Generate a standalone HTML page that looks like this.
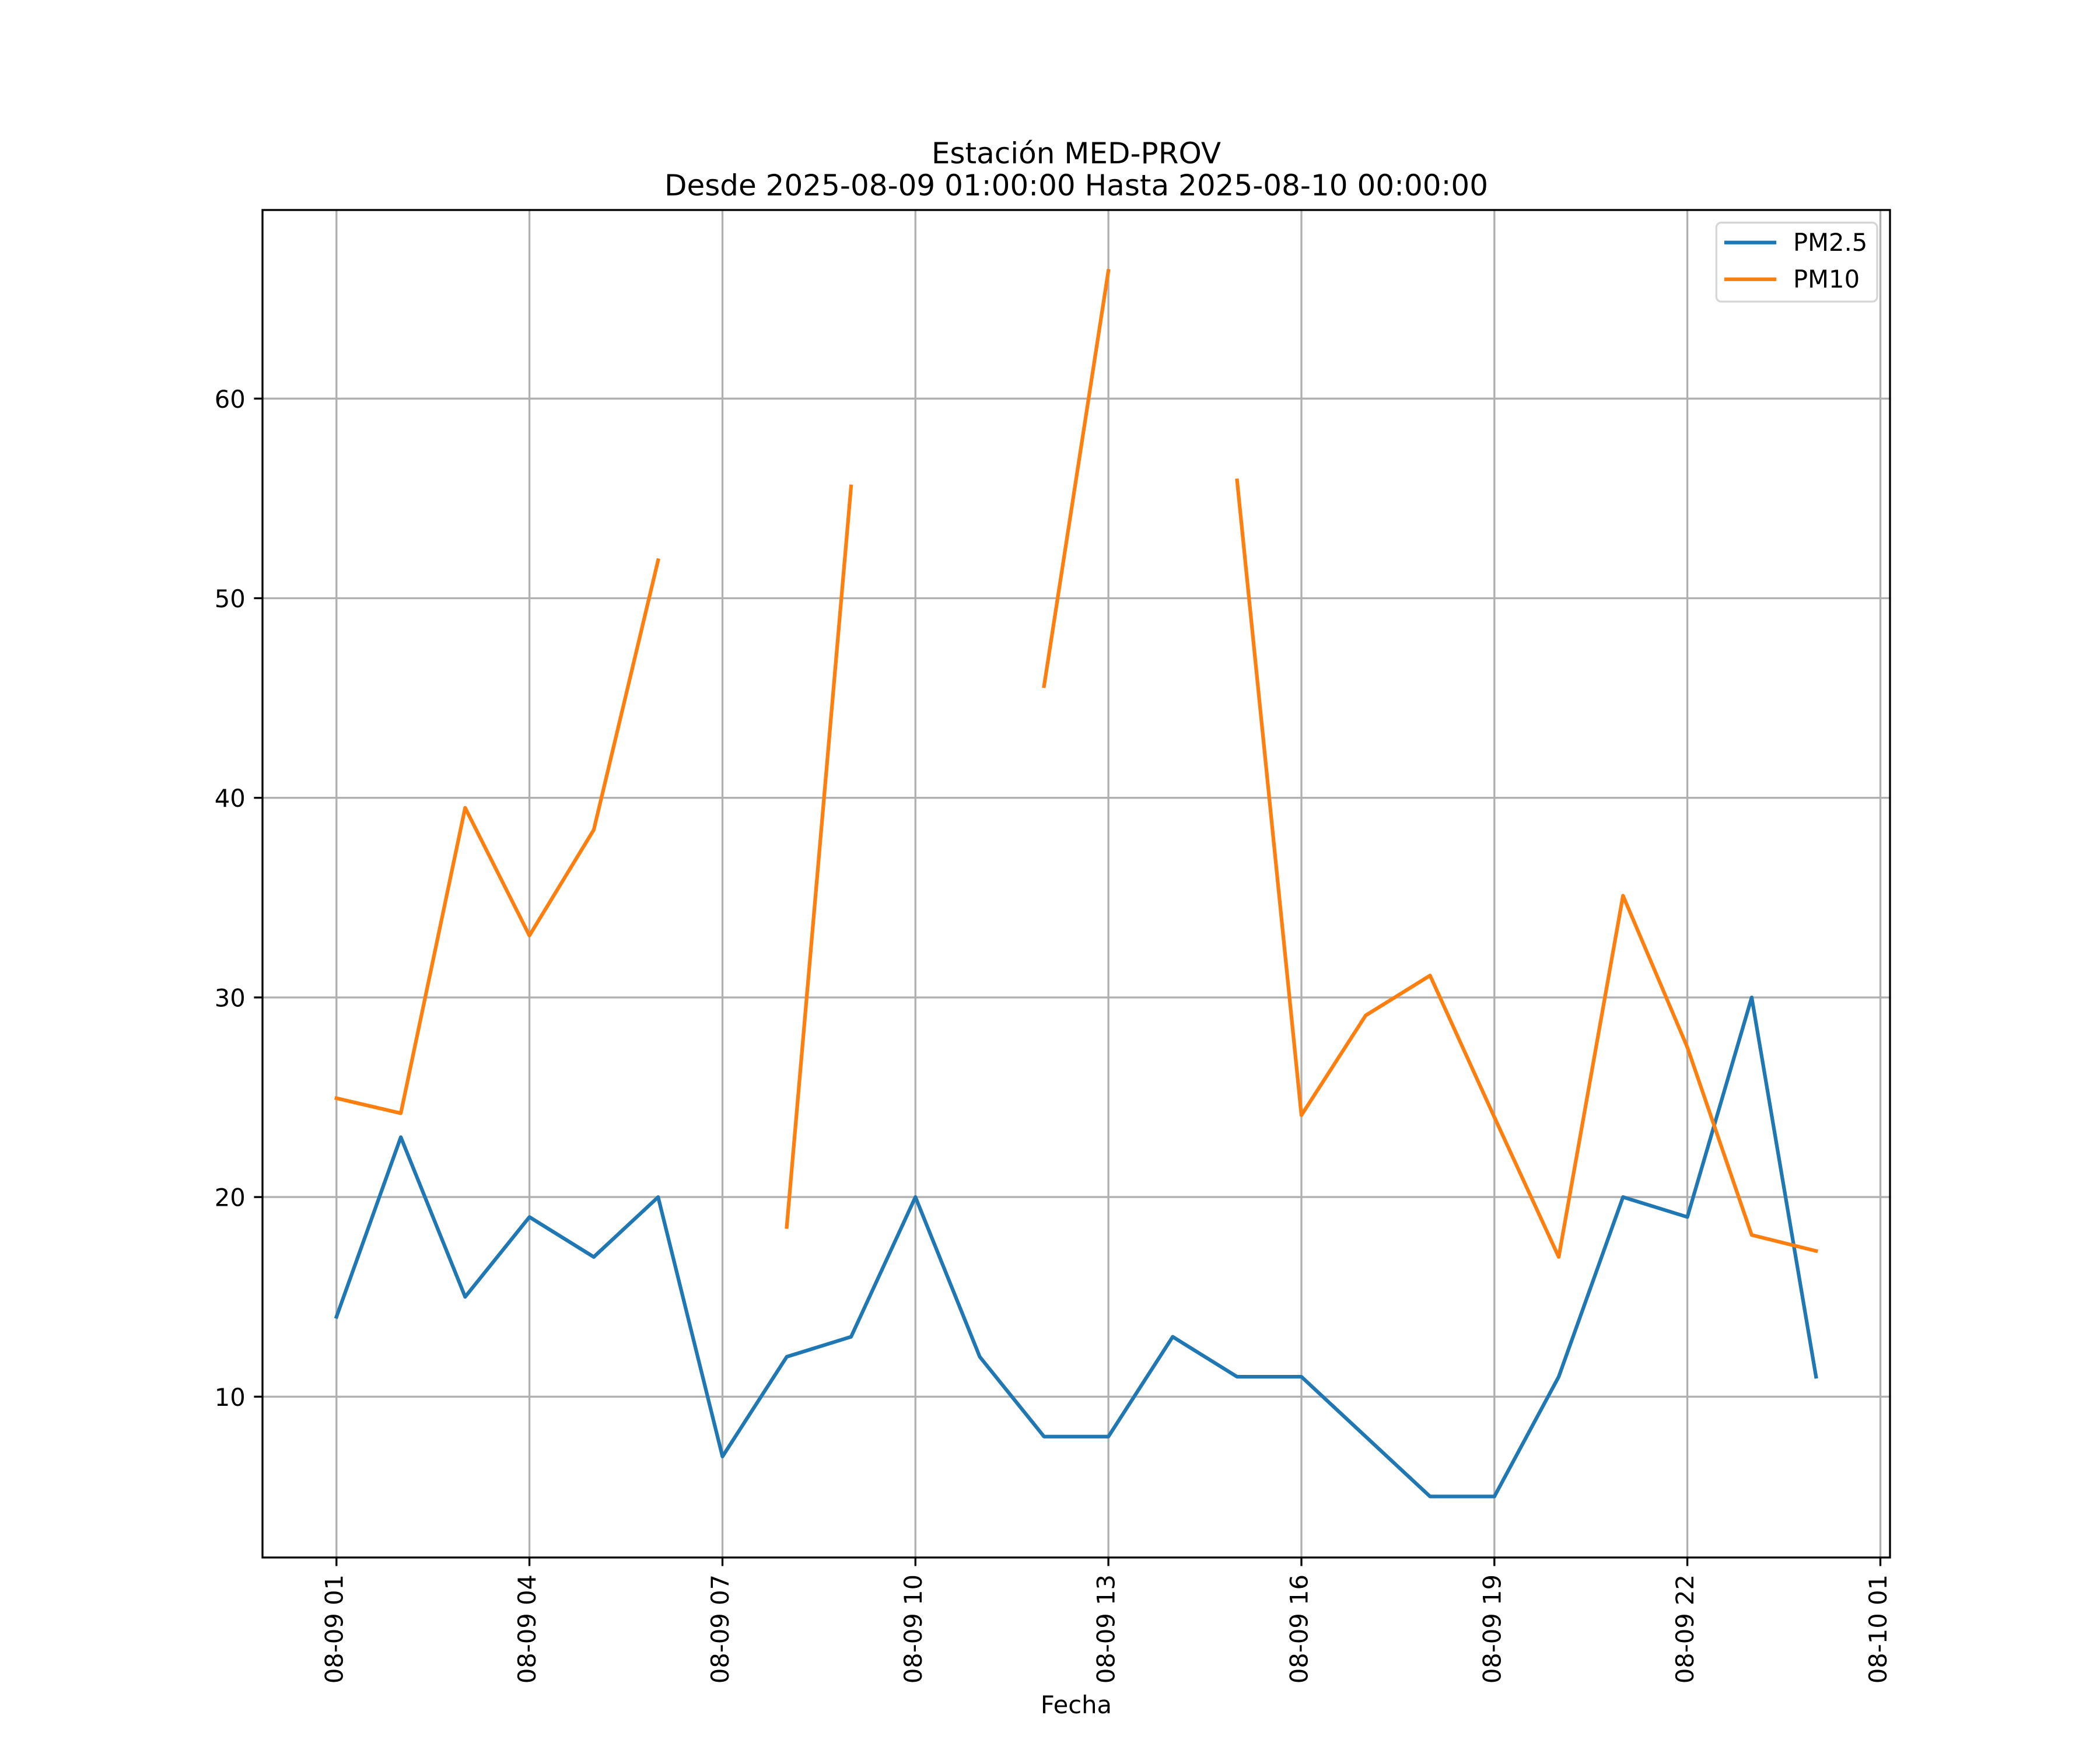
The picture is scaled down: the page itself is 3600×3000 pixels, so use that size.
<!DOCTYPE html>
<html>
<head>
<meta charset="utf-8">
<style>
html,body{margin:0;padding:0;background:#fff;}
svg{display:block;}
text{font-family:"DejaVu Sans","Liberation Sans",sans-serif;fill:#000;}
</style>
</head>
<body>
<svg width="3600" height="3000" viewBox="0 0 3600 3000" xmlns="http://www.w3.org/2000/svg">
<rect x="0" y="0" width="3600" height="3000" fill="#fff"/>

<!-- grid -->
<g stroke="#b0b0b0" stroke-width="3.33" fill="none" stroke-linecap="square">
  <line x1="576.8" y1="360" x2="576.8" y2="2670"/>
  <line x1="907.6" y1="360" x2="907.6" y2="2670"/>
  <line x1="1238.5" y1="360" x2="1238.5" y2="2670"/>
  <line x1="1569.3" y1="360" x2="1569.3" y2="2670"/>
  <line x1="1900.1" y1="360" x2="1900.1" y2="2670"/>
  <line x1="2231.0" y1="360" x2="2231.0" y2="2670"/>
  <line x1="2561.8" y1="360" x2="2561.8" y2="2670"/>
  <line x1="2892.6" y1="360" x2="2892.6" y2="2670"/>
  <line x1="3223.5" y1="360" x2="3223.5" y2="2670"/>
  <line x1="450" y1="2394.3" x2="3240" y2="2394.3"/>
  <line x1="450" y1="2052.1" x2="3240" y2="2052.1"/>
  <line x1="450" y1="1709.9" x2="3240" y2="1709.9"/>
  <line x1="450" y1="1367.7" x2="3240" y2="1367.7"/>
  <line x1="450" y1="1025.5" x2="3240" y2="1025.5"/>
  <line x1="450" y1="683.3" x2="3240" y2="683.3"/>
</g>

<!-- PM2.5 -->
<polyline fill="none" stroke="#1f77b4" stroke-width="6.25" stroke-linejoin="round" stroke-linecap="square"
 points="576.8,2257.4 687.1,1949.4 797.4,2223.2 907.6,2086.3 1017.9,2154.8 1128.2,2052.1 1238.5,2496.9 1348.7,2325.9 1459.0,2291.6 1569.3,2052.1 1679.6,2325.9 1789.8,2462.7 1900.1,2462.7 2010.4,2291.6 2120.7,2360.1 2231.0,2360.1 2341.2,2462.7 2451.5,2565.4 2561.8,2565.4 2672.1,2360.1 2782.3,2052.1 2892.6,2086.3 3002.9,1709.9 3113.2,2360.1"/>

<!-- PM10 -->
<g fill="none" stroke="#ff7f0e" stroke-width="6.25" stroke-linejoin="round" stroke-linecap="square">
  <polyline points="576.8,1882.7 687.1,1908.4 797.4,1384.8 907.6,1603.8 1017.9,1422.5 1128.2,960.5"/>
  <polyline points="1348.7,2103.4 1459.0,833.9"/>
  <polyline points="1789.8,1176.1 1900.1,464.3"/>
  <polyline points="2120.7,823.6 2231.0,1911.8 2341.2,1740.7 2451.5,1672.3 2561.8,1915.2 2672.1,2154.8 2782.3,1535.4 2892.6,1795.4 3002.9,2117.1 3113.2,2144.5"/>
</g>

<!-- spines -->
<rect x="450" y="360" width="2790" height="2310" fill="none" stroke="#000" stroke-width="3.33" stroke-linejoin="miter"/>

<!-- ticks -->
<g stroke="#000" stroke-width="3.33">
  <line x1="576.8" y1="2670" x2="576.8" y2="2684.6"/>
  <line x1="907.6" y1="2670" x2="907.6" y2="2684.6"/>
  <line x1="1238.5" y1="2670" x2="1238.5" y2="2684.6"/>
  <line x1="1569.3" y1="2670" x2="1569.3" y2="2684.6"/>
  <line x1="1900.1" y1="2670" x2="1900.1" y2="2684.6"/>
  <line x1="2231.0" y1="2670" x2="2231.0" y2="2684.6"/>
  <line x1="2561.8" y1="2670" x2="2561.8" y2="2684.6"/>
  <line x1="2892.6" y1="2670" x2="2892.6" y2="2684.6"/>
  <line x1="3223.5" y1="2670" x2="3223.5" y2="2684.6"/>
  <line x1="435.4" y1="2394.3" x2="450" y2="2394.3"/>
  <line x1="435.4" y1="2052.1" x2="450" y2="2052.1"/>
  <line x1="435.4" y1="1709.9" x2="450" y2="1709.9"/>
  <line x1="435.4" y1="1367.7" x2="450" y2="1367.7"/>
  <line x1="435.4" y1="1025.5" x2="450" y2="1025.5"/>
  <line x1="435.4" y1="683.3" x2="450" y2="683.3"/>
</g>

<!-- y tick labels -->
<g font-size="41.67" text-anchor="end">
  <text x="420.8" y="2409.8">10</text>
  <text x="420.8" y="2067.6">20</text>
  <text x="420.8" y="1725.4">30</text>
  <text x="420.8" y="1383.2">40</text>
  <text x="420.8" y="1041.0">50</text>
  <text x="420.8" y="698.8">60</text>
</g>

<!-- x tick labels (rotated) -->
<g font-size="41.67" text-anchor="end">
  <text transform="translate(587.3,2699) rotate(-90)">08-09 01</text>
  <text transform="translate(918.1,2699) rotate(-90)">08-09 04</text>
  <text transform="translate(1249.0,2699) rotate(-90)">08-09 07</text>
  <text transform="translate(1579.8,2699) rotate(-90)">08-09 10</text>
  <text transform="translate(1910.6,2699) rotate(-90)">08-09 13</text>
  <text transform="translate(2241.5,2699) rotate(-90)">08-09 16</text>
  <text transform="translate(2572.3,2699) rotate(-90)">08-09 19</text>
  <text transform="translate(2903.1,2699) rotate(-90)">08-09 22</text>
  <text transform="translate(3234.0,2699) rotate(-90)">08-10 01</text>
</g>

<!-- axis label -->
<text x="1845" y="2937" font-size="41.67" text-anchor="middle">Fecha</text>

<!-- title -->
<g font-size="50" text-anchor="middle">
  <text x="1845" y="280">Estación MED-PROV</text>
  <text x="1845" y="335">Desde 2025-08-09 01:00:00 Hasta 2025-08-10 00:00:00</text>
</g>

<!-- legend -->
<rect x="2942.3" y="381.7" width="275.7" height="135.3" rx="8.3" ry="8.3" fill="#ffffff" fill-opacity="0.8" stroke="#d6d6d6" stroke-width="3.33"/>
<line x1="2959" y1="415.7" x2="3042" y2="415.7" stroke="#1f77b4" stroke-width="6.25" stroke-linecap="square"/>
<line x1="2959" y1="478.7" x2="3042" y2="478.7" stroke="#ff7f0e" stroke-width="6.25" stroke-linecap="square"/>
<g font-size="41.67">
  <text x="3074" y="429.8">PM2.5</text>
  <text x="3074" y="493.2">PM10</text>
</g>
</svg>
</body>
</html>
